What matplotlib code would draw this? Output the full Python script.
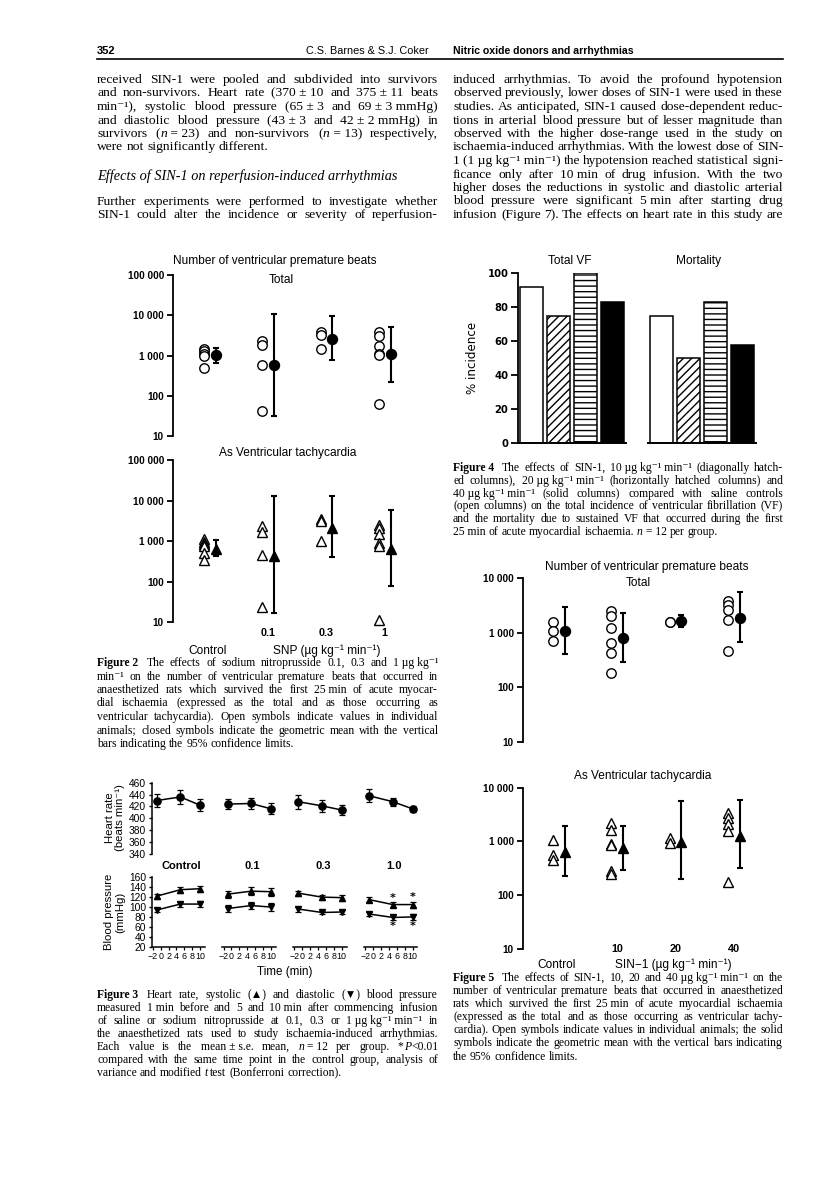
import math
import numpy as np
import matplotlib.pyplot as plt
import matplotlib.ticker as mticker
from matplotlib.lines import Line2D
from matplotlib.backends.backend_agg import get_hinting_flag

plt.rcParams['hatch.linewidth'] = 1.0
SERIF = ['Liberation Serif', 'DejaVu Serif']
SANS = ['Liberation Sans', 'DejaVu Sans']
NARROW = ['Liberation Sans Narrow', 'Liberation Sans', 'DejaVu Sans']

# ---------------- data ----------------
# Figure 2: SNP, number of ventricular premature beats (individual, geometric mean, 95% CL)
snp_groups = ['Control', '0.1', '0.3', '1']
snp_total = [[1460, 1280, 1100, 945, 485],
             [2355, 1875, 565, 43],
             [3935, 3250, 1460],
             [3790, 3010, 1770, 1100, 1040, 62]]
snp_total_mean = [1010, 565, 2640, 1060]
snp_total_lo = [660, 31, 752, 222]
snp_total_hi = [1560, 10800, 9440, 5035]
snp_vt = [[1120, 963, 844, 753, 498, 341],
          [2380, 1700, 453, 24],
          [3600, 3100, 1000],
          [2570, 2140, 1500, 877, 770, 11.4]]
snp_vt_mean = [624, 440, 2140, 624]
snp_vt_lo = [436, 16.6, 412, 78]
snp_vt_hi = [1058, 12800, 12800, 5780]

# Figure 3: heart rate and blood pressure, mean +- s.e.m.
time_min = [-1, 5, 10]
bp_groups = ['Control', '0.1', '0.3', '1.0']
hr_mean = [[430, 436, 422], [424, 425, 416], [428, 421, 414], [438, 428, 416]]
hr_sem = [[11, 12, 10], [9, 9, 9], [12, 10, 9], [11, 7, 5]]
sys_mean = [[122, 135, 137], [126, 132, 131], [128, 120, 119], [115, 105, 105]]
sys_sem = [[5, 6, 6], [7, 8, 8], [5, 5, 6], [5, 5, 6]]
dia_mean = [[94, 106, 106], [97, 103, 100], [96, 89, 90], [86, 79, 80]]
dia_sem = [[5, 5, 6], [7, 7, 8], [5, 4, 5], [4, 5, 6]]
bp_signif = [[False] * 3, [False] * 3, [False] * 3, [False, True, True]]

# Figure 4: % incidence
vf_panels = ['Total VF', 'Mortality']
total_vf = [92, 75, 100, 83]
mortality = [75, 50, 83, 58]
bar_fill = ['white', 'white', 'white', 'black']
bar_hatch = [None, '////', '---', None]

# Figure 5: SIN-1, number of ventricular premature beats
sin_groups = ['Control', '10', '20', '40']
sin_total = [[1556, 1094, 716],
             [2440, 1977, 1242, 640, 419, 185],
             [1600, 1580],
             [3725, 3150, 2620, 1718, 469]]
sin_total_mean = [1077, 802, 1620, 1893]
sin_total_lo = [402, 294, 1260, 677]
sin_total_hi = [2890, 2275, 2120, 5455]
sin_vt = [[1063, 560, 452],
          [2233, 1633, 896, 847, 282, 248],
          [1175, 923],
          [3335, 2690, 2110, 1563, 179]]
sin_vt_mean = [627, 745, 990, 1262]
sin_vt_lo = [228, 294, 200, 325]
sin_vt_hi = [1963, 1963, 5650, 5900]

# ---------------- page text (_x_ = italic, \u00a0 = no stretch) ----------------
left_top = [
    "received SIN-1 were pooled and subdivided into survivors",
    "and non-survivors. Heart rate (370\u00a0±\u00a010 and 375\u00a0±\u00a011 beats",
    "min⁻¹), systolic blood pressure (65\u00a0±\u00a03 and 69\u00a0±\u00a03\u00a0mmHg)",
    "and diastolic blood pressure (43\u00a0±\u00a03 and 42\u00a0±\u00a02\u00a0mmHg) in",
    "survivors (_n_\u00a0=\u00a023) and non-survivors (_n_\u00a0=\u00a013) respectively,",
    "were not significantly different.",
]
heading = "Effects of SIN-1 on reperfusion-induced arrhythmias"
left_bottom = [
    "Further experiments were performed to investigate whether",
    "SIN-1 could alter the incidence or severity of reperfusion-",
]
right_top = [
    "induced arrhythmias. To avoid the profound hypotension",
    "observed previously, lower doses of SIN-1 were used in these",
    "studies. As anticipated, SIN-1 caused dose-dependent reduc-",
    "tions in arterial blood pressure but of lesser magnitude than",
    "observed with the higher dose-range used in the study on",
    "ischaemia-induced arrhythmias. With the lowest dose of SIN-",
    "1 (1\u00a0µg\u00a0kg⁻¹\u00a0min⁻¹) the hypotension reached statistical signi-",
    "ficance only after 10\u00a0min of drug infusion. With the two",
    "higher doses the reductions in systolic and diastolic arterial",
    "blood pressure were significant 5\u00a0min after starting drug",
    "infusion (Figure 7). The effects on heart rate in this study are",
]
cap2 = [
    "Figure\u00a02\u00a0 The effects of sodium nitroprusside 0.1, 0.3 and 1\u00a0µg\u00a0kg⁻¹",
    "min⁻¹ on the number of ventricular premature beats that occurred in",
    "anaesthetized rats which survived the first 25\u00a0min of acute myocar-",
    "dial ischaemia (expressed as the total and as those occurring as",
    "ventricular tachycardia). Open symbols indicate values in individual",
    "animals; closed symbols indicate the geometric mean with the vertical",
    "bars indicating the 95% confidence limits.",
]
cap3 = [
    "Figure\u00a03\u00a0 Heart rate, systolic (▲) and diastolic (▼) blood pressure",
    "measured 1\u00a0min before and 5 and 10\u00a0min after commencing infusion",
    "of saline or sodium nitroprusside at 0.1, 0.3 or 1\u00a0µg\u00a0kg⁻¹\u00a0min⁻¹ in",
    "the anaesthetized rats used to study ischaemia-induced arrhythmias.",
    "Each value is the mean\u00a0±\u00a0s.e. mean, _n_\u00a0=\u00a012 per group. *_P_<0.01",
    "compared with the same time point in the control group, analysis of",
    "variance and modified _t_ test (Bonferroni correction).",
]
cap4 = [
    "Figure\u00a04\u00a0 The effects of SIN-1, 10\u00a0µg\u00a0kg⁻¹\u00a0min⁻¹ (diagonally hatch-",
    "ed columns), 20\u00a0µg\u00a0kg⁻¹\u00a0min⁻¹ (horizontally hatched columns) and",
    "40\u00a0µg\u00a0kg⁻¹\u00a0min⁻¹ (solid columns) compared with saline controls",
    "(open columns) on the total incidence of ventricular fibrillation (VF)",
    "and the mortality due to sustained VF that occurred during the first",
    "25\u00a0min of acute myocardial ischaemia. _n_\u00a0=\u00a012 per group.",
]
cap5 = [
    "Figure\u00a05\u00a0 The effects of SIN-1, 10, 20 and 40\u00a0µg\u00a0kg⁻¹\u00a0min⁻¹ on the",
    "number of ventricular premature beats that occurred in anaesthetized",
    "rats which survived the first 25\u00a0min of acute myocardial ischaemia",
    "(expressed as the total and as those occurring as ventricular tachy-",
    "cardia). Open symbols indicate values in individual animals; the solid",
    "symbols indicate the geometric mean with the vertical bars indicating",
    "the 95% confidence limits.",
]

W, H = 816, 1187
fig = plt.figure(figsize=(W / 100, H / 100), dpi=100)
renderer = fig.canvas.get_renderer()


def box(x0, ytop, x1, ybot):
    # page pixels (origin top left) -> figure fraction rectangle
    return [x0 / W, 1 - ybot / H, (x1 - x0) / W, (ybot - ytop) / H]


def ptext(x, y, s, **kw):
    kw.setdefault('family', SANS)
    return fig.text(x / W, 1 - y / H, s, **kw)


def raster_shift(t):
    # Agg rounds each word's bitmap on its own; work out the whole-pixel
    # offset that gives the word, so all words of a line sit on one baseline
    try:
        font = renderer._prepare_font(t.get_fontproperties())
        font.set_text(t.get_text(), 0, flags=get_hinting_flag())
        h = font.get_width_height()[1] / 64
        d = font.get_descent() / 64
        return round(d) - math.floor(h) + math.floor(h - d)
    except Exception:
        return 0


def make_words(words, y, size, bold):
    out = []
    for i, w in enumerate(words):
        parts = []
        for j, seg in enumerate(w.split('_')):
            if not seg:
                continue
            t = fig.text(0, 1 - y / H, seg, fontsize=size, family=SERIF,
                         style='italic' if j % 2 else 'normal',
                         weight='bold' if i < bold else 'normal', va='baseline')
            parts.append((t, t.get_window_extent(renderer).width))
        out.append(parts)
    return out


def put_line(x0, x1, y, line, size, fill=True, bold=0):
    y = round(y)
    words = line.split(' ')
    space = size * 0.25 * 100 / 72
    for _ in range(2):
        pieces = make_words(words, y, size, bold)
        widths = [sum(w for _, w in p) for p in pieces]
        need = sum(widths) + (len(words) - 1) * space * 0.6
        if need <= x1 - x0:
            break
        for p in pieces:
            for t, _ in p:
                t.remove()
        size *= (x1 - x0) / need
    gap = (x1 - x0 - sum(widths)) / (len(words) - 1) if fill and len(words) > 1 else space
    x = x0
    for p, w in zip(pieces, widths):
        xx = x
        for t, pw in p:
            t.set_position((xx / W, 1 - (y - raster_shift(t)) / H))
            xx += pw + 0.3
        x += w + gap


def paragraph(x0, x1, y0, pitch, lines, size, bold=0):
    for i, ln in enumerate(lines):
        if ln:
            put_line(x0, x1, y0 + i * pitch, ln, size, fill=i < len(lines) - 1,
                     bold=bold if i == 0 else 0)


# ---------------- header + running text ----------------
ptext(97, 54, '352', fontsize=8, weight='bold', va='baseline')
ptext(429, 54, 'C.S. Barnes & S.J. Coker', fontsize=7.8, ha='right', va='baseline')
ptext(453, 54, 'Nitric oxide donors and arrhythmias', fontsize=7.6, weight='bold', va='baseline')
fig.add_artist(Line2D([97 / W, 783 / W], [1 - 59 / H] * 2, lw=1.2, color='black'))

LC, RC = (97, 438), (453, 783)
paragraph(*LC, 83, 13.5, left_top, 9.7)
ptext(97, 180, heading, fontsize=10.3, family=SERIF, style='italic', va='baseline')
paragraph(*LC, 205, 13.5, left_bottom + [''], 9.7)
paragraph(*RC, 83, 13.5, right_top + [''], 9.7)

paragraph(*LC, 666, 13.5, cap2, 8.4, bold=1)
paragraph(*LC, 998, 13.0, cap3, 8.4, bold=1)
paragraph(*RC, 471, 12.8, cap4, 8.4, bold=1)
paragraph(*RC, 981, 13.1, cap5, 8.4, bold=1)


# ---------------- dose / scatter panels (Figures 2 and 5) ----------------
def dose_panel(x0, x1, ytop, ybot, ind, mean, lo, hi, mk, ymax, xlim):
    ax = fig.add_axes(box(x0, ytop, x1, ybot))
    ax.patch.set_alpha(0)
    ax.set_yscale('log')
    for i, vals in enumerate(ind):
        ax.plot([i] * len(vals), vals, ls='none', marker=mk, ms=6.8, mfc='white',
                mec='black', mew=1.0, clip_on=False)
    m = np.array(mean, float)
    ax.errorbar(np.arange(len(m)) + 0.2, m, yerr=[m - np.array(lo), np.array(hi) - m],
                fmt=mk, ms=7.2, color='black', elinewidth=1.5, capsize=2.4,
                capthick=1.5, clip_on=False)
    ax.set_xlim(*xlim)
    ax.set_ylim(10, ymax)
    ticks = [t for t in [10, 100, 1000, 10000, 100000] if t <= ymax]
    ax.set_yticks(ticks)
    ax.set_yticklabels([f'{t:,}'.replace(',', ' ') for t in ticks])
    ax.yaxis.set_minor_locator(mticker.NullLocator())
    for s in ['top', 'right', 'bottom']:
        ax.spines[s].set_visible(False)
    ax.spines['left'].set_linewidth(1.3)
    ax.tick_params(axis='y', direction='out', length=4.5, width=1.3, pad=2, labelsize=7.2)
    ax.set_xticks([])
    for t in ax.get_yticklabels():
        t.set_fontweight('bold')
        t.set_family(SANS)
    return ax


# Figure 2
ptext(275, 261, 'Number of ventricular premature beats', fontsize=8.6, ha='center', va='center')
ptext(281, 280, 'Total', fontsize=8.6, ha='center', va='center')
dose_panel(173, 420, 275, 436, snp_total, snp_total_mean, snp_total_lo, snp_total_hi,
           'o', 100000, (-0.532, 3.705))
ptext(288, 453, 'As Ventricular tachycardia', fontsize=8.6, ha='center', va='center')
ax2b = dose_panel(173, 420, 460, 622.3, snp_vt, snp_vt_mean, snp_vt_lo, snp_vt_hi,
                  '^', 100000, (-0.532, 3.705))
for i, lab in enumerate(snp_groups[1:]):
    ax2b.text(i + 1.1, 5.4, lab, fontsize=7.8, weight='bold', family=SANS,
              ha='center', va='center')
ptext(208, 651, snp_groups[0], fontsize=8.6, ha='center', va='center')
ptext(327, 651, 'SNP (µg kg\u207b\u00b9 min\u207b\u00b9)', fontsize=8.6, ha='center', va='center')

# Figure 5
ptext(647, 567, 'Number of ventricular premature beats', fontsize=8.6, ha='center', va='center')
ptext(638, 583, 'Total', fontsize=8.6, ha='center', va='center')
dose_panel(523, 790, 578, 742, sin_total, sin_total_mean, sin_total_lo, sin_total_hi,
           'o', 10000, (-0.515, 4.065))
ptext(643, 776, 'As Ventricular tachycardia', fontsize=8.6, ha='center', va='center')
ax5b = dose_panel(523, 790, 787.7, 949, sin_vt, sin_vt_mean, sin_vt_lo, sin_vt_hi,
                  '^', 10000, (-0.515, 4.065))
for i, lab in enumerate(sin_groups[1:]):
    ax5b.text(i + 1.1, 10, lab, fontsize=7.8, weight='bold', family=SANS,
              ha='center', va='center')
ptext(557, 964.5, sin_groups[0], fontsize=8.6, ha='center', va='center')
ptext(673, 964.5, 'SIN\u22121 (µg kg\u207b\u00b9 min\u207b\u00b9)', fontsize=8.6, ha='center', va='center')

# ---------------- Figure 3 ----------------
SEG0, SEGDX, SEGW = 151.6, 70.8, 53.3
for k in range(4):
    x0 = SEG0 + SEGDX * k
    # heart rate
    ah = fig.add_axes(box(x0, 782.7, x0 + SEGW, 854))
    ah.patch.set_alpha(0)
    ah.errorbar(time_min, hr_mean[k], yerr=hr_sem[k], fmt='o-', color='black', ms=5.2,
                lw=1.1, elinewidth=0.9, capsize=2.2, capthick=0.9, clip_on=False)
    ah.set_xlim(-2.3, 11.2)
    ah.set_ylim(340, 460)
    for s in ['top', 'right', 'bottom']:
        ah.spines[s].set_visible(False)
    ah.set_xticks([])
    if k == 0:
        ah.set_yticks(np.arange(340, 461, 20))
        ah.tick_params(axis='y', direction='out', length=2.5, width=1, pad=1.5, labelsize=7.4)
        ah.spines['left'].set_linewidth(1.1)
        for t in ah.get_yticklabels():
            t.set_family(NARROW)
    else:
        ah.spines['left'].set_visible(False)
        ah.set_yticks([])
    ptext(x0 + 0.56 * SEGW, 866, bp_groups[k], fontsize=8, weight='bold',
          ha='center', va='center')

    # blood pressure
    ab = fig.add_axes(box(x0, 877.3, x0 + SEGW, 946.7))
    ab.patch.set_alpha(0)
    ab.errorbar(time_min, sys_mean[k], yerr=sys_sem[k], fmt='^-', color='black', ms=4.6,
                lw=1.1, elinewidth=0.9, capsize=2.2, capthick=0.9)
    ab.errorbar(time_min, dia_mean[k], yerr=dia_sem[k], fmt='v-', color='black', ms=4.6,
                lw=1.1, elinewidth=0.9, capsize=2.2, capthick=0.9)
    for t, sg, su, se, de, dm in zip(time_min, bp_signif[k], sys_mean[k], sys_sem[k],
                                     dia_sem[k], dia_mean[k]):
        if sg:
            ab.text(t, su + se + 9, '*', fontsize=8, ha='center', va='center', weight='bold')
            ab.text(t, dm - de - 12, '*', fontsize=8, ha='center', va='center', weight='bold')
    ab.set_xlim(-2.3, 11.2)
    ab.set_ylim(20, 160)
    for s in ['top', 'right']:
        ab.spines[s].set_visible(False)
    ab.set_xticks(np.arange(-2, 11, 2))
    ab.tick_params(axis='x', direction='out', length=2.5, width=0.9, pad=1, labelsize=6.4)
    ab.spines['bottom'].set_linewidth(1.1)
    for t in ab.get_xticklabels():
        t.set_family(NARROW)
    if k == 0:
        ab.set_yticks(np.arange(20, 161, 20))
        ab.tick_params(axis='y', direction='out', length=2.5, width=1, pad=1.5, labelsize=7.4)
        ab.spines['left'].set_linewidth(1.1)
        for t in ab.get_yticklabels():
            t.set_family(NARROW)
    else:
        ab.spines['left'].set_visible(False)
        ab.set_yticks([])

ptext(110, 818, 'Heart rate', fontsize=8.2, rotation=90, ha='center', va='center')
ptext(120, 818, '(beats min\u207b\u00b9)', fontsize=8.2, rotation=90, ha='center', va='center')
ptext(109, 912, 'Blood pressure', fontsize=8.2, rotation=90, ha='center', va='center')
ptext(120, 912, '(mmHg)', fontsize=8.2, rotation=90, ha='center', va='center')
ptext(285, 972, 'Time (min)', fontsize=8.4, ha='center', va='center')

# ---------------- Figure 4 ----------------
a4 = fig.add_axes(box(518, 273, 760, 443.3))
a4.patch.set_alpha(0)
group_x = [0, 4.8]
for gx, vals in zip(group_x, [total_vf, mortality]):
    xs = gx + np.arange(len(vals))
    a4.bar(xs, vals, width=0.85, color=bar_fill, edgecolor='black', linewidth=1.1,
           hatch=bar_hatch, zorder=2)
    a4.plot([xs[0] - 0.5, xs[-1] + 0.5], [0, 0], color='black', lw=1.4, clip_on=False, zorder=3)
a4.set_xlim(-0.5, 8.46)
a4.set_ylim(0, 100)
for s in ['top', 'right', 'bottom']:
    a4.spines[s].set_visible(False)
a4.spines['left'].set_linewidth(1.3)
a4.set_xticks([])
a4.set_yticks(np.arange(0, 101, 20))
a4.tick_params(axis='y', direction='out', length=5, width=1.3, pad=2, labelsize=7.2)
for t in a4.get_yticklabels():
    t.set_fontweight('bold')
a4.set_ylabel('% incidence', fontsize=8.6, labelpad=6)
ptext(570, 261, vf_panels[0], fontsize=8.6, ha='center', va='center')
ptext(699, 261, vf_panels[1], fontsize=8.6, ha='center', va='center')

fig.savefig('out.png', dpi=100)
